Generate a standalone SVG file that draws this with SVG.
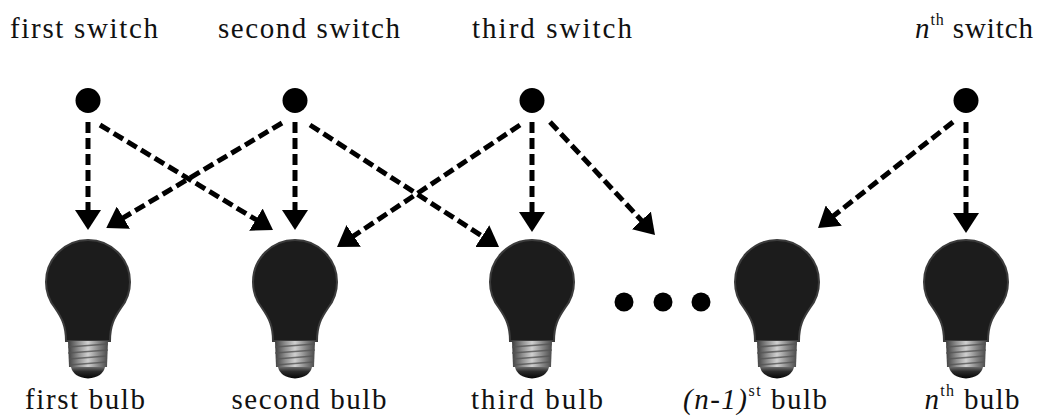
<svg xmlns="http://www.w3.org/2000/svg" xmlns:xlink="http://www.w3.org/1999/xlink" width="1038" height="417" viewBox="0 0 1038 417">
<style>
.lbl{font-size:29px;fill:#111;text-anchor:middle}
.it{font-style:italic}
.sup{font-size:16px}
.conn{fill:none;stroke:#000;stroke-width:5;stroke-dasharray:11 5;marker-end:url(#arr)}
.sw{fill:#000}
.dot{fill:#000}
</style>
<defs>
<marker id="arr" markerUnits="userSpaceOnUse" viewBox="0 0 20 26" refX="9" refY="13" markerWidth="20" markerHeight="26" orient="auto">
<path d="M0,0 L20,13 L0,26 Z" fill="#000"/>
</marker>
<linearGradient id="metal" x1="0" y1="0" x2="1" y2="0">
<stop offset="0" stop-color="#3e3e3e"/>
<stop offset="0.25" stop-color="#8c8c8c"/>
<stop offset="0.5" stop-color="#d0d0d0"/>
<stop offset="0.75" stop-color="#8a8a8a"/>
<stop offset="1" stop-color="#4a4a4a"/>
</linearGradient>
<linearGradient id="cap" x1="0" y1="0" x2="0" y2="1">
<stop offset="0" stop-color="#6a6a6a"/>
<stop offset="0.4" stop-color="#2a2a2a"/>
<stop offset="1" stop-color="#050505"/>
</linearGradient>
<g id="bulb">
<path d="M-42,282 A42,42 0 0 1 42,282 A42,42 0 0 1 33,308 C26,318 22,326 22,341 L-22,341 C-22,326 -26,318 -33,308 A42,42 0 0 1 -42,282 Z" fill="#1c1c1c" stroke="#3c3c3c" stroke-width="2"/>
<path d="M-20,341 L20,341 L19,367 L-19,367 Z" fill="url(#metal)"/>
<g stroke="#555" stroke-width="1.6" fill="none" opacity="0.8">
<path d="M-20,347 L20,344"/>
<path d="M-20,353 L20,350"/>
<path d="M-19,359 L19,356"/>
<path d="M-19,365 L19,362"/>
</g>
<path d="M-17,367 L17,367 Q15,377 0,378.5 Q-15,377 -17,367 Z" fill="url(#cap)"/>
</g>
</defs>

<g id="connectors">
<path class="conn" d="M88,122 L88,219"/>
<path class="conn" d="M100,125 L263.6,224.3"/>
<path class="conn" d="M282,123 L115.7,222.3"/>
<path class="conn" d="M295,122 L295,219"/>
<path class="conn" d="M310,125 L489.8,241.0"/>
<path class="conn" d="M520,125 L346.2,240.9"/>
<path class="conn" d="M532,122 L532,221"/>
<path class="conn" d="M550,122 L647.5,227.0"/>
<path class="conn" d="M953,122 L826.7,221.2"/>
<path class="conn" d="M966,122 L966,222"/>
</g>

<g font-family="Liberation Serif, Times New Roman, Times, serif">
<g id="switch1"><circle class="sw" cx="88" cy="100.5" r="12.5"/><text class="lbl" x="84" y="38" textLength="148" lengthAdjust="spacing">first switch</text></g>
<g id="switch2"><circle class="sw" cx="295" cy="100.5" r="12.5"/><text class="lbl" x="309" y="38" textLength="182" lengthAdjust="spacing">second switch</text></g>
<g id="switch3"><circle class="sw" cx="532" cy="100.5" r="12.5"/><text class="lbl" x="552" y="38" textLength="160" lengthAdjust="spacing">third switch</text></g>
<g id="switchN"><circle class="sw" cx="966" cy="100.5" r="12.5"/><text class="lbl" x="974" y="38" textLength="118" lengthAdjust="spacing"><tspan class="it">n</tspan><tspan class="sup" dy="-13">th</tspan><tspan dy="13"> switch</tspan></text></g>

<g id="bulb1"><use xlink:href="#bulb" transform="translate(88,0)"/><text class="lbl" x="85" y="409" textLength="120" lengthAdjust="spacing">first bulb</text></g>
<g id="bulb2"><use xlink:href="#bulb" transform="translate(295,0)"/><text class="lbl" x="309" y="409" textLength="155" lengthAdjust="spacing">second bulb</text></g>
<g id="bulb3"><use xlink:href="#bulb" transform="translate(532,0)"/><text class="lbl" x="537" y="409" textLength="132" lengthAdjust="spacing">third bulb</text></g>
<g id="ellipsis"><circle class="dot" cx="624" cy="302" r="9.5"/><circle class="dot" cx="663" cy="302" r="9.5"/><circle class="dot" cx="701" cy="302" r="9.5"/></g>
<g id="bulbN1"><use xlink:href="#bulb" transform="translate(777,0)"/><text class="lbl" x="755" y="409" textLength="144" lengthAdjust="spacing"><tspan class="it">(n-1)</tspan><tspan class="sup" dy="-13">st</tspan><tspan dy="13"> bulb</tspan></text></g>
<g id="bulbN"><use xlink:href="#bulb" transform="translate(966,0)"/><text class="lbl" x="972" y="409" textLength="95" lengthAdjust="spacing"><tspan class="it">n</tspan><tspan class="sup" dy="-13">th</tspan><tspan dy="13"> bulb</tspan></text></g>
</g>
</svg>
